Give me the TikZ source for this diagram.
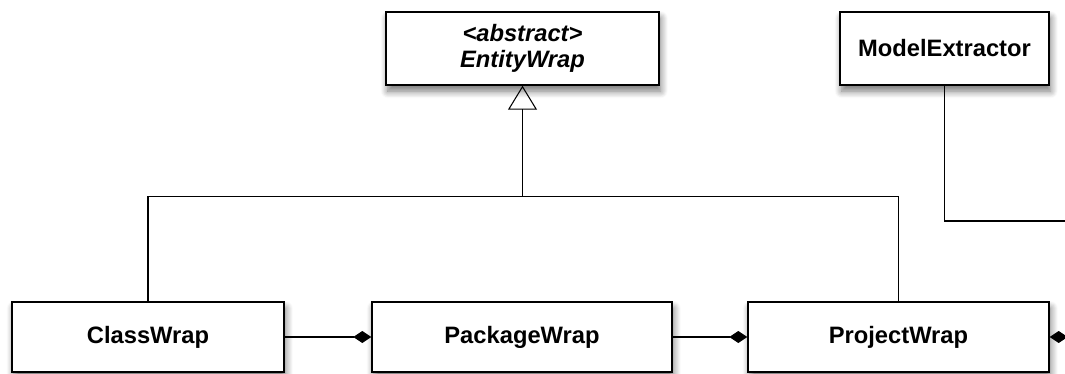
\documentclass[tikz,border=0pt]{standalone}
\usepackage{fontspec}
\setmainfont{Liberation Sans}
\usetikzlibrary{arrows.meta,positioning,shadows.blur}
\tikzset{
  cls/.style={draw, thick, fill=white, rectangle, minimum height=1.4cm, align=center,
    font=\fontsize{13.5}{16}\selectfont\bfseries,
    blur shadow={shadow xshift=1pt, shadow yshift=-3.5pt, shadow blur radius=4pt, shadow blur steps=8, shadow opacity=55}},
  wire/.style={semithick},
  inh/.style={semithick, -{Triangle[open, length=0.48cm, width=0.58cm, line width=0.6pt]}},
  comp/.style={semithick, -{Diamond[length=0.36cm, width=0.24cm]}},
}

\begin{document}
\begin{tikzpicture}

\useasboundingbox (0,0) rectangle (21.3,-7.48);

% Top row
\node[cls, minimum width=5.46cm, minimum height=1.46cm] (ew) at (10.45,-0.97)
  {\itshape <abstract>\\[-1pt]\itshape EntityWrap};
\node[cls, minimum width=4.18cm, minimum height=1.46cm] (mx) at (18.89,-0.97) {ModelExtractor};

% Bottom row
\node[cls, minimum width=5.44cm] (cw) at (2.96,-6.74) {ClassWrap};
\node[cls, minimum width=6.0cm] (pw) at (10.44,-6.74) {PackageWrap};
\node[cls, minimum width=6.02cm] (pj) at (17.97,-6.74) {ProjectWrap};

% Inheritance tree
\coordinate (bar) at (10.45,-3.93);
\draw[wire] (cw.north) |- (bar) -| (pj.north);
\draw[inh] (bar) -- (ew.south);

% Extractor link, leaves to the right
\coordinate (mxout) at (21.4,-4.42);
\draw[wire] (mx.south) |- (mxout);

% Composition
\draw[comp] (cw.east) -- (pw.west);
\draw[comp] (pw.east) -- (pj.west);
\coordinate (pjout) at (21.4,-6.74);
\draw[comp] (pjout) -- (pj.east);

\end{tikzpicture}
\end{document}
